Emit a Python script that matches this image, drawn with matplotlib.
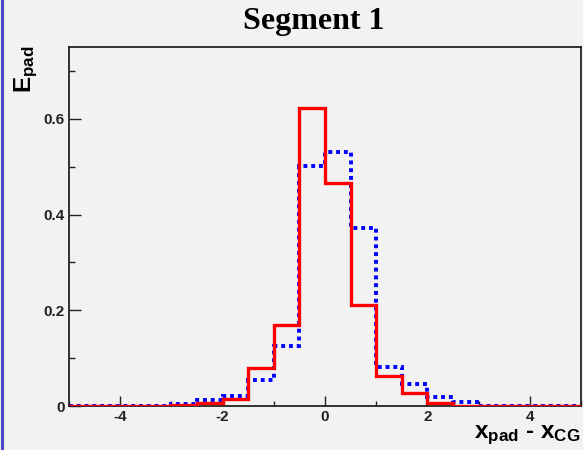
import matplotlib
matplotlib.use("Agg")
import matplotlib.pyplot as plt
from matplotlib.ticker import MultipleLocator
from matplotlib.lines import Line2D

# Data: histogram bins (width 0.5 from -5 to 5)
bin_edges = [-5.0, -4.5, -4.0, -3.5, -3.0, -2.5, -2.0, -1.5, -1.0, -0.5, 0.0,
             0.5, 1.0, 1.5, 2.0, 2.5, 3.0, 3.5, 4.0, 4.5, 5.0]
red_values = [0, 0, 0, 0, 0.002, 0.006, 0.015, 0.079, 0.169, 0.622,
              0.466, 0.211, 0.063, 0.027, 0.006, 0.001, 0, 0, 0, 0]
blue_values = [0, 0, 0, 0, 0.005, 0.013, 0.021, 0.054, 0.125, 0.501,
               0.531, 0.371, 0.082, 0.047, 0.018, 0.009, 0, 0, 0, 0]
x_ticks = [-4, -2, 0, 2, 4]
y_ticks = [0, 0.2, 0.4, 0.6]
y_tick_labels = ["0", "0.2", "0.4", "0.6"]
title = "Segment 1"

plt.rcParams['mathtext.fontset'] = 'custom'
plt.rcParams['mathtext.bf'] = 'Liberation Sans:bold'
plt.rcParams['mathtext.rm'] = 'Liberation Sans:bold'

bg = "#f2f2f2"
fig = plt.figure(figsize=(5.83, 4.5), dpi=100, facecolor=bg)
ax = fig.add_axes([69/583, 44/450, 512/583, 359/450], facecolor=bg)

ax.stairs(blue_values, bin_edges, color="#0000ff", linewidth=2.8,
          linestyle=(0, (1, 1)), zorder=2)
ax.stairs(red_values, bin_edges, color="#ff0000", linewidth=2.4, zorder=3)

ax.set_xlim(-5, 5)
ax.set_ylim(0, 0.75)

ax.set_xticks(x_ticks)
ax.set_xticklabels([str(t) for t in x_ticks])
ax.xaxis.set_minor_locator(MultipleLocator(1))
ax.set_yticks(y_ticks)
ax.set_yticklabels(y_tick_labels)
ax.yaxis.set_minor_locator(MultipleLocator(0.1))

ax.tick_params(axis='x', which='major', direction='in', length=7.5, width=1.0,
               color="#222222", labelsize=11, pad=3)
ax.tick_params(axis='x', which='minor', direction='in', length=3.5, width=1.0,
               color="#222222")
ax.tick_params(axis='y', which='major', direction='in', length=8.5, width=1.0,
               color="#222222", labelsize=11, pad=3)
ax.tick_params(axis='y', which='minor', direction='in', length=4.5, width=1.0,
               color="#222222")
for lab in ax.get_xticklabels() + ax.get_yticklabels():
    lab.set_fontfamily("Liberation Sans")
    lab.set_fontweight("bold")
    lab.set_color("#222222")

for s in ax.spines.values():
    s.set_color("#222222")
    s.set_linewidth(1.3)

fig.text(314/583, 1 - 22/450, title, ha='center', va='center',
         fontsize=23, fontweight='bold', family='Liberation Serif')

fig.text(580/583, 1 - 438/450, r'$\mathbf{x_{pad}}$ - $\mathbf{x_{CG}}$',
         ha='right', va='baseline', fontsize=17.5, fontweight='bold',
         family='Liberation Sans')
fig.text(40/583, 1 - 46/450, r'$\mathbf{E_{pad}}$', ha='right', va='top',
         rotation=90, fontsize=17.5)

fig.add_artist(Line2D([1.5/583, 1.5/583], [0, 1], transform=fig.transFigure,
                      color="#4a4ac4", linewidth=2.2))

fig.savefig("out.png", dpi=100, facecolor=bg)
